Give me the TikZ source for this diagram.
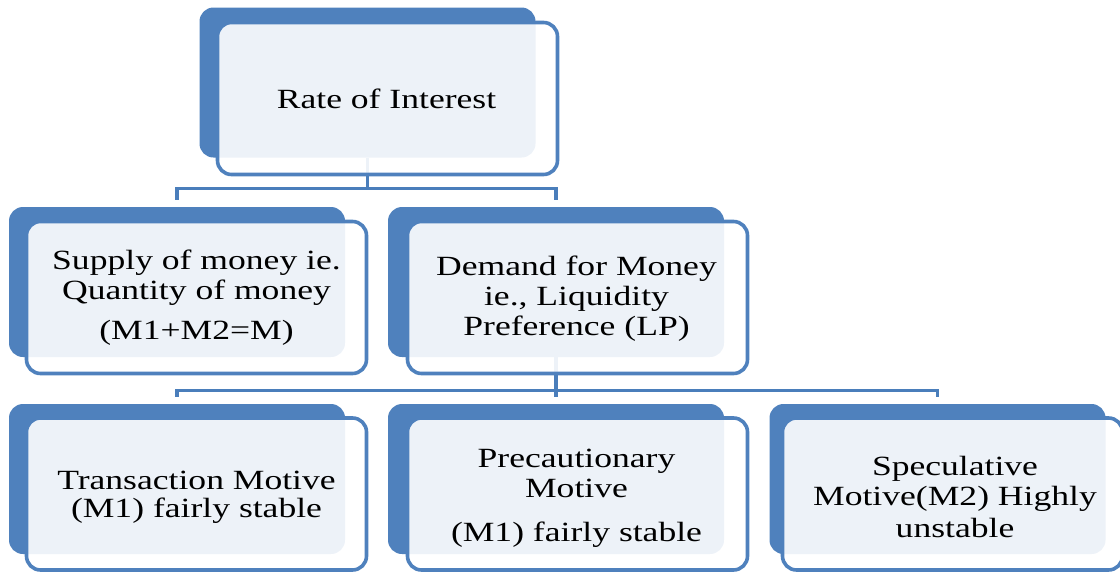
\documentclass[tikz,border=0pt]{standalone}
\usepackage{fontspec}
\setmainfont{Liberation Serif}[FakeStretch=1.28]
\usetikzlibrary{calc}
\definecolor{accent}{HTML}{4F81BD}
\definecolor{linkc}{HTML}{4A7EBB}
\begin{document}
\begin{tikzpicture}[x=1pt,y=-1pt,
  back/.style={fill=accent, draw=none, rounded corners=14pt, minimum width=336pt, minimum height=150pt, inner sep=0pt},
  front/.style={draw=accent, line width=3.6pt, fill=white, fill opacity=0.9, rounded corners=14pt, minimum width=340pt, minimum height=152pt, inner sep=0pt},
  txt/.style={align=center, font=\fontsize{27.8}{30}\selectfont, text=black, inner sep=0pt},
  conn/.style={draw=linkc, line width=3.4pt, shorten >=7pt}
]
\useasboundingbox (0,0) rectangle (1120,571);
\clip (0,0) rectangle (1120,571);
% back boxes
\node[back] (dTop) at (367.5,82.5) {};
\node[back] (dSup) at (177,282) {};
\node[back] (dDem) at (556,282) {};
\node[back] (dTra) at (177,479) {};
\node[back] (dPre) at (556,479) {};
\node[back] (dSpe) at (937.5,479) {};
% connectors
\draw[conn] (dTop.south) -- ++(0,31) -| (dSup.north);
\draw[conn] (dTop.south) -- ++(0,31) -| (dDem.north);
\draw[conn] (dDem.south) -- ++(0,33) -| (dTra.north);
\draw[conn] (dDem.south) -- ++(0,33) -| (dPre.north);
\draw[conn] (dDem.south) -- ++(0,33) -| (dSpe.north);
% front boxes
\node[front] (fTop) at (387.5,98.5) {};
\node[front] (fSup) at (196.5,297.5) {};
\node[front] (fDem) at (577.5,297.5) {};
\node[front] (fTra) at (196.5,494) {};
\node[front] (fPre) at (577.5,494) {};
\node[front] (fSpe) at (952.5,494) {};
% texts
\node[txt] (tTop) at (386.5,99) {Rate of Interest};
\node[txt] (tSup) at (196.5,298) {Supply of money ie.\\Quantity of money\\[10pt](M1+M2=M)};
\node[txt] (tDem) at (576.5,299) {Demand for Money\\ie., Liquidity\\Preference (LP)};
\node[txt] (tTra) at (196.5,497) {Transaction Motive\\[-2pt](M1) fairly stable};
\node[txt] (tPre) at (576.5,498) {Precautionary\\Motive\\[14pt](M1) fairly stable};
\node[txt] (tSpe) at (955,497) {Speculative\\Motive(M2) Highly\\[2pt]unstable};
\end{tikzpicture}
\end{document}
